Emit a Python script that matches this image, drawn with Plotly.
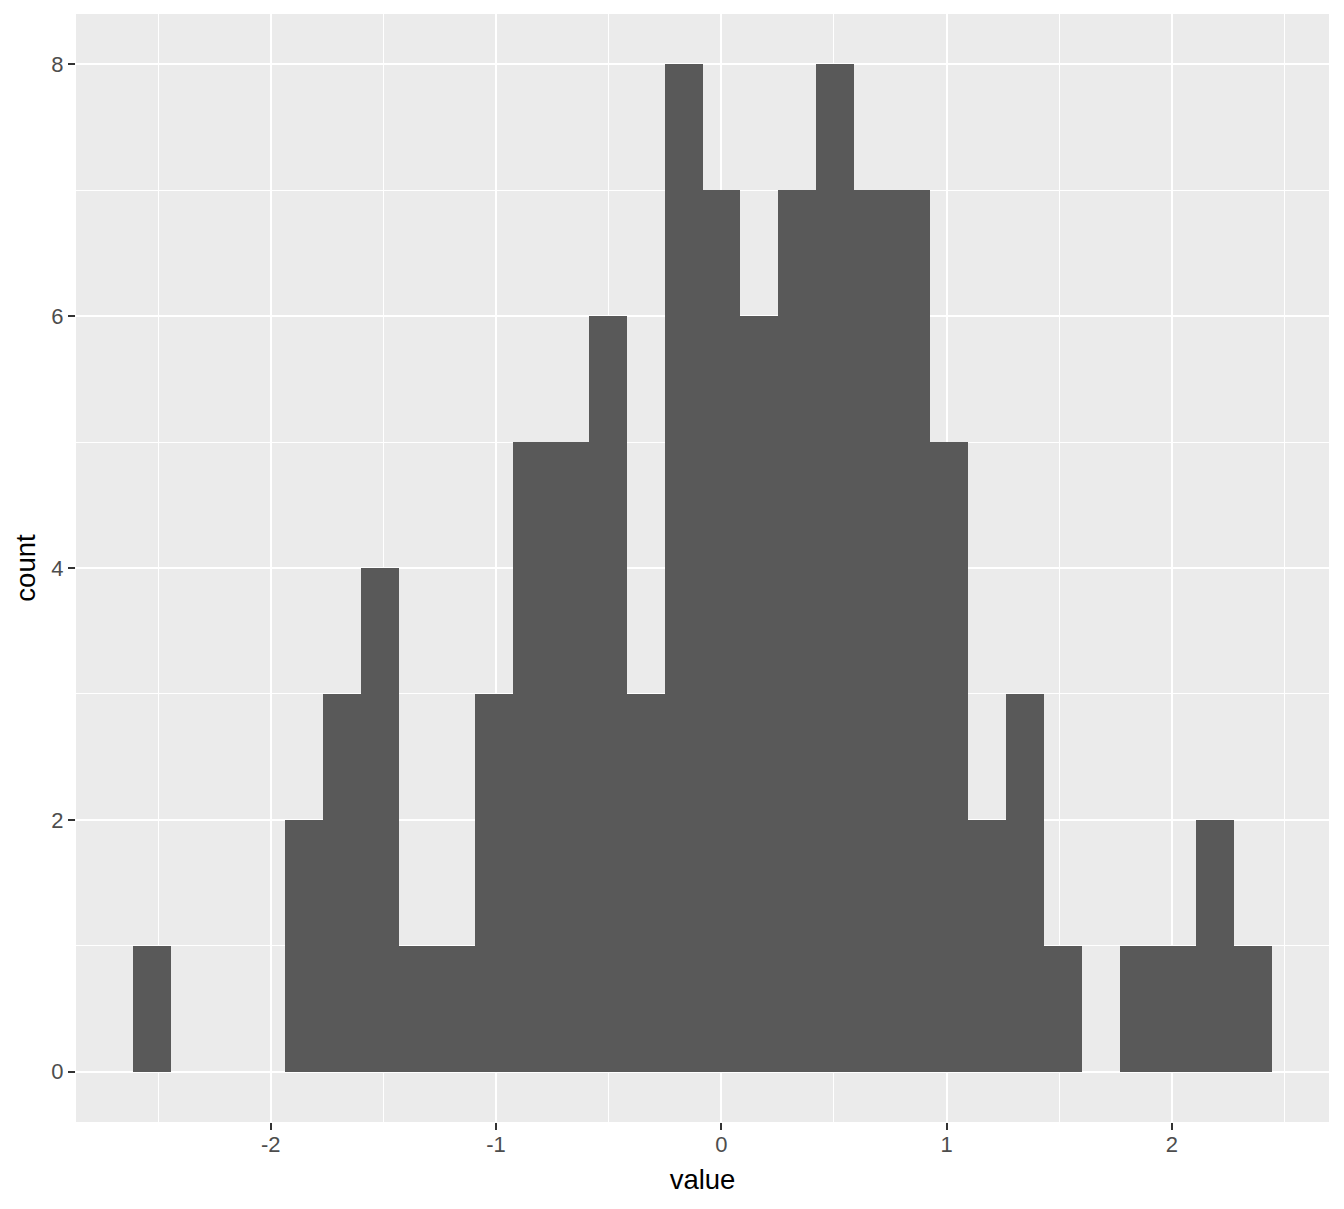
import numpy as np
import plotly.graph_objects as go

# Histogram bins (30 bins, ggplot2 style)
bin_start = -2.612
bin_width = 0.16857
counts = [1, 0, 0, 0, 2, 3, 4, 1, 1, 3, 5, 5, 6, 3, 8, 7, 6, 7, 8, 7, 7, 5, 2, 3, 1, 0, 1, 1, 2, 1]

x_ticks = [-2, -1, 0, 1, 2]
y_ticks = [0, 2, 4, 6, 8]

left_edges = bin_start + bin_width * np.arange(len(counts))
x_range = [-2.865, 2.698]
y_range = [-0.4, 8.4]

fig = go.Figure(go.Bar(
    x=left_edges, y=counts, width=bin_width, offset=0,
    marker=dict(color="#595959", line=dict(width=0)),
    hoverinfo="x+y",
))

axis_common = dict(
    showline=False, zeroline=False,
    showgrid=True, gridcolor="white", gridwidth=2,
    ticks="outside", ticklen=7, tickwidth=2, tickcolor="#333333",
    tickfont=dict(family="Liberation Sans, Arial", size=22, color="#4D4D4D"),
)

fig.update_xaxes(
    range=x_range, tickvals=x_ticks, ticktext=[str(v) for v in x_ticks],
    ticklabelstandoff=-4,
    title=dict(text="value", font=dict(family="Liberation Sans, Arial", size=27.5, color="black"), standoff=13),
    minor=dict(dtick=0.5, tick0=-2.5, showgrid=True, gridcolor="white", gridwidth=1, ticklen=0),
    **axis_common,
)
fig.update_yaxes(
    range=y_range, tickvals=y_ticks, ticktext=[str(v) for v in y_ticks],
    title=dict(text="count", font=dict(family="Liberation Sans, Arial", size=27.5, color="black"), standoff=7),
    minor=dict(dtick=1, tick0=1, showgrid=True, gridcolor="white", gridwidth=1, ticklen=0),
    **axis_common,
)

fig.update_layout(
    width=1336, height=1201,
    margin=dict(l=68, r=15, t=6, b=87, autoexpand=False),
    plot_bgcolor="#EBEBEB", paper_bgcolor="white",
    showlegend=False, bargap=0,
)

fig.write_html("out.html")
